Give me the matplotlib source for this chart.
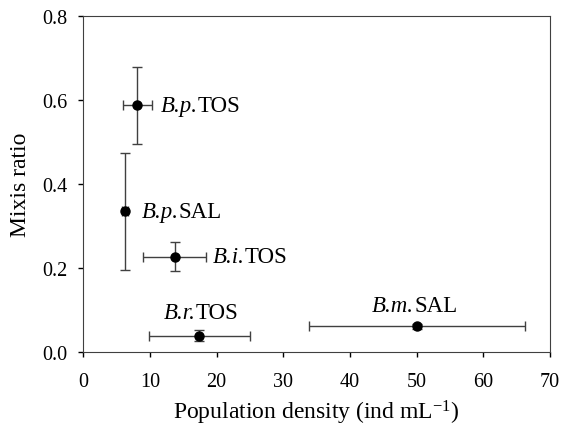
"""
Mixis ratio against population density for Brachionus populations.
"""
import numpy as np
import matplotlib
matplotlib.use('Agg')
import matplotlib.pyplot as plt
from matplotlib.ticker import MultipleLocator
from matplotlib.offsetbox import TextArea, HPacker, AnnotationBbox

# Population labels (italic genus/species part, roman site part)
species = ['B.p.', 'B.p.', 'B.i.', 'B.r.', 'B.m.']
sites = ['TOS', 'SAL', 'TOS', 'TOS', 'SAL']
density = [8.1, 6.2, 13.7, 17.4, 50.0]
density_lo = [6.0, 5.8, 9.0, 9.9, 33.8]
density_hi = [10.3, 6.7, 18.4, 25.0, 66.2]
mixis = [0.587, 0.334, 0.226, 0.038, 0.060]
mixis_lo = [0.494, 0.194, 0.193, 0.026, 0.053]
mixis_hi = [0.677, 0.472, 0.260, 0.052, 0.067]

# label anchor in data coords and horizontal anchor (0 = left, 0.5 = centre)
label_pos = [(11.6, 0.587, 0), (8.7, 0.334, 0), (19.4, 0.226, 0),
             (17.6, 0.094, 0.5), (49.7, 0.111, 0.5)]

LABEL_SIZE = 16.5


def main():
    plt.rcParams['font.family'] = 'Liberation Serif'
    plt.rcParams['mathtext.fontset'] = 'custom'
    plt.rcParams['mathtext.rm'] = 'Liberation Serif'
    plt.rcParams['mathtext.it'] = 'Liberation Serif:italic'

    fig = plt.figure(figsize=(5.64, 4.27), dpi=100)
    ax = fig.add_axes([0.1477, 0.174, 0.8273, 0.787])

    x = np.array(density)
    y = np.array(mixis)
    xerr = [x - np.array(density_lo), np.array(density_hi) - x]
    yerr = [y - np.array(mixis_lo), np.array(mixis_hi) - y]

    ax.errorbar(
        x, y, xerr=xerr, yerr=yerr,
        fmt='o', color='k', ms=6.5, ecolor='0.25', elinewidth=1,
        capsize=3.6, capthick=1
    )
    for sp_name, site, (lx, ly, ha) in zip(species, sites, label_pos):
        parts = HPacker(children=[
            TextArea(sp_name, textprops=dict(fontsize=LABEL_SIZE, style='italic')),
            TextArea(site, textprops=dict(fontsize=LABEL_SIZE)),
        ], pad=0, sep=0, align='baseline')
        ab = AnnotationBbox(parts, (lx, ly), box_alignment=(ha, 0.5),
                            frameon=False, pad=0)
        ax.add_artist(ab)

    ax.set_xlim(0, 70)
    ax.set_ylim(0, 0.8)
    ax.xaxis.set_major_locator(MultipleLocator(10))
    ax.yaxis.set_major_locator(MultipleLocator(0.2))
    ax.yaxis.set_major_formatter(plt.FormatStrFormatter('%.1f'))
    ax.tick_params(direction='out', length=3.5, width=1, labelsize=14.5)
    ax.tick_params(axis='x', pad=11)
    ax.tick_params(axis='y', pad=8)
    for sp in ax.spines.values():
        sp.set_color('0.25')
    ax.set_xlabel(r'Population density (ind mL$^{\mathrm{-1}}$)',
                  fontsize=17, labelpad=5)
    ax.set_ylabel('Mixis ratio', fontsize=17, labelpad=8)

    fig.savefig('out.png', dpi=100)
    plt.close()


if __name__ == '__main__':
    main()
